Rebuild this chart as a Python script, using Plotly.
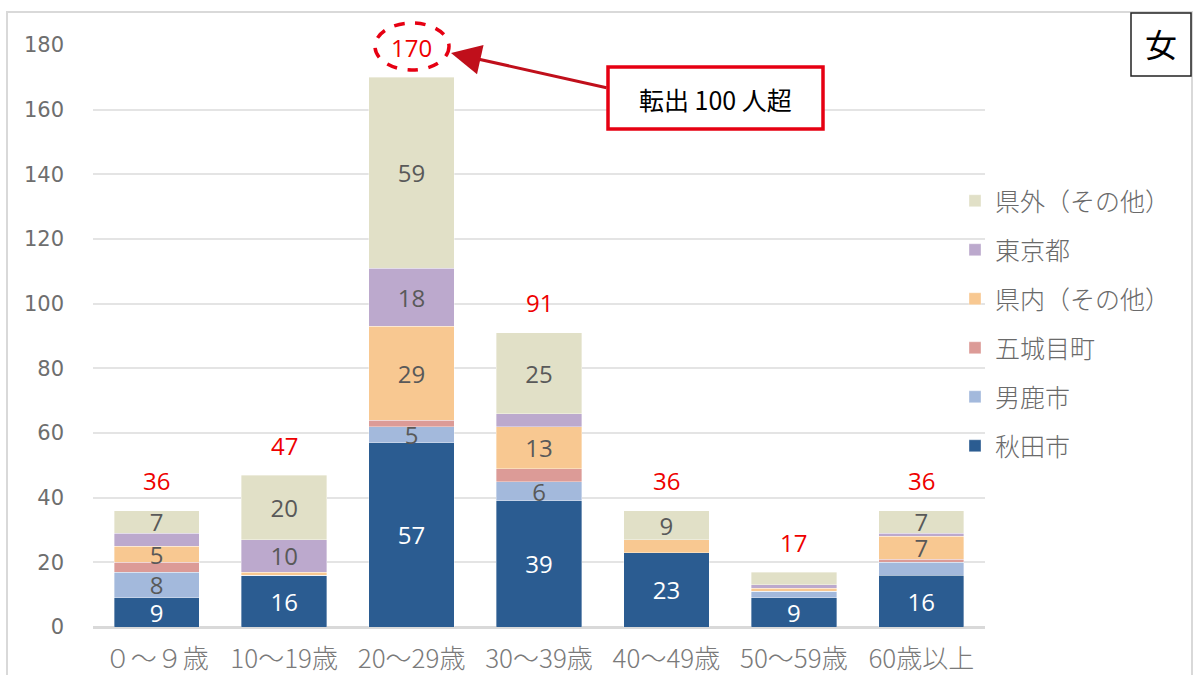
import plotly.graph_objects as go

categories = ["０～９歳", "10～19歳", "20～29歳", "30～39歳", "40～49歳", "50～59歳", "60歳以上"]
series_names = ["秋田市", "男鹿市", "五城目町", "県内（その他）", "東京都", "県外（その他）"]
akita = [9, 16, 57, 39, 23, 9, 16]
oga = [8, 0, 5, 6, 0, 2, 4]
gojome = [3, 0, 2, 4, 0, 0, 1]
kennai = [5, 1, 29, 13, 4, 1, 7]
tokyo = [4, 10, 18, 4, 0, 1, 1]
kengai = [7, 20, 59, 25, 9, 4, 7]
y_ticks = [0, 20, 40, 60, 80, 100, 120, 140, 160, 180]

series_values = [akita, oga, gojome, kennai, tokyo, kengai]
colors = ["#2b5c91", "#a3b9dc", "#dc9b97", "#f8c891", "#bca9cd", "#e1e0c7"]
text_colors = ["#ffffff", "#595959", "#595959", "#595959", "#595959", "#595959"]
totals = [sum(v) for v in zip(*series_values)]

fig = go.Figure()
for i, (name, vals) in enumerate(zip(series_names, series_values)):
    fig.add_trace(go.Bar(
        x=categories, y=vals, name=name,
        marker=dict(color=colors[i], line=dict(color="rgba(255,255,255,0.6)", width=0.6)),
        text=[str(v) if v >= 5 else "" for v in vals],
        textposition="inside", insidetextanchor="middle", textangle=0,
        textfont=dict(family="Open Sans", size=24, color=text_colors[i]),
        legendgroup=name, legendrank=100 - i, width=0.67,
        hoverinfo="skip",
    ))

for c, t in zip(categories, totals):
    fig.add_annotation(x=c, y=t, text=str(t), showarrow=False, xanchor="center", yanchor="middle",
                       yshift=30, font=dict(family="Open Sans", size=24, color="#ee0000"))

def px_x(p):
    return (p - 93) / 892

def px_y(p):
    return (627 - p) / 582

# dashed ellipse around 170
fig.add_shape(type="circle", xref="paper", yref="paper",
              x0=px_x(375), x1=px_x(449), y0=px_y(70), y1=px_y(23),
              line=dict(color="#e60012", width=3.5, dash="dash"))
# callout box
fig.add_shape(type="rect", xref="paper", yref="paper",
              x0=px_x(608), x1=px_x(823), y0=px_y(129), y1=px_y(67),
              line=dict(color="#e60012", width=3.5), fillcolor="white")
fig.add_annotation(xref="paper", yref="paper", x=px_x(715), y=px_y(99), text="転出 100 人超",
                   xanchor="center", yanchor="middle",
                   showarrow=False, font=dict(family="Noto Sans CJK JP", size=25, color="#000000", weight=400))
# arrow
fig.add_annotation(xref="paper", yref="paper", x=px_x(451), y=px_y(53), ax=157, ay=35,
                   axref="pixel", ayref="pixel", text="", showarrow=True,
                   arrowhead=2, arrowsize=2, arrowwidth=3, arrowcolor="#c00f1b")
# outer frame
fig.add_shape(type="rect", xref="paper", yref="paper",
              x0=px_x(7), x1=px_x(1192), y0=px_y(700), y1=px_y(12),
              line=dict(color="#d9d9d9", width=2), layer="below")
# 女 box
fig.add_shape(type="rect", xref="paper", yref="paper",
              x0=px_x(1131), x1=px_x(1191), y0=px_y(76), y1=px_y(13),
              line=dict(color="#222222", width=1.5), fillcolor="white")
fig.add_annotation(xref="paper", yref="paper", x=px_x(1161), y=px_y(43), text="女",
                   xanchor="center", yanchor="middle",
                   showarrow=False, font=dict(family="Noto Sans CJK JP", size=32, color="#000000"))

fig.update_layout(
    width=1197, height=675,
    margin=dict(l=93, r=212, t=45, b=48),
    barmode="stack", bargap=0.33,
    plot_bgcolor="white", paper_bgcolor="white",
    showlegend=True,
    uniformtext=dict(minsize=24, mode="show"),
    legend=dict(x=px_x(955), y=px_y(178), xanchor="left", yanchor="top",
                traceorder="grouped", tracegroupgap=13.5,
                font=dict(family="Noto Sans CJK JP", size=25, color="#6a6a6a", weight=300),
                itemwidth=30, bgcolor="rgba(0,0,0,0)"),
    xaxis=dict(tickfont=dict(family="Noto Sans CJK JP", size=26, color="#7a7a7a", weight=300),
               showline=False, showgrid=False, ticks="", ticklabelstandoff=14, automargin=False),
    yaxis=dict(range=[0, 180], tickvals=y_ticks, showgrid=True, gridcolor="#e4e4e4", gridwidth=2,
               tickfont=dict(family="DejaVu Sans", size=21, color="#6e6e6e"),
               zeroline=True, zerolinecolor="#d9d9d9", zerolinewidth=3,
               ticks="", ticklabelstandoff=28, showline=False, automargin=False),
    font=dict(family="Noto Sans CJK JP"),
)

fig.write_html("out.html", config={"displayModeBar": False},
               post_script="document.body.style.margin='0';document.body.style.overflow='hidden';")
